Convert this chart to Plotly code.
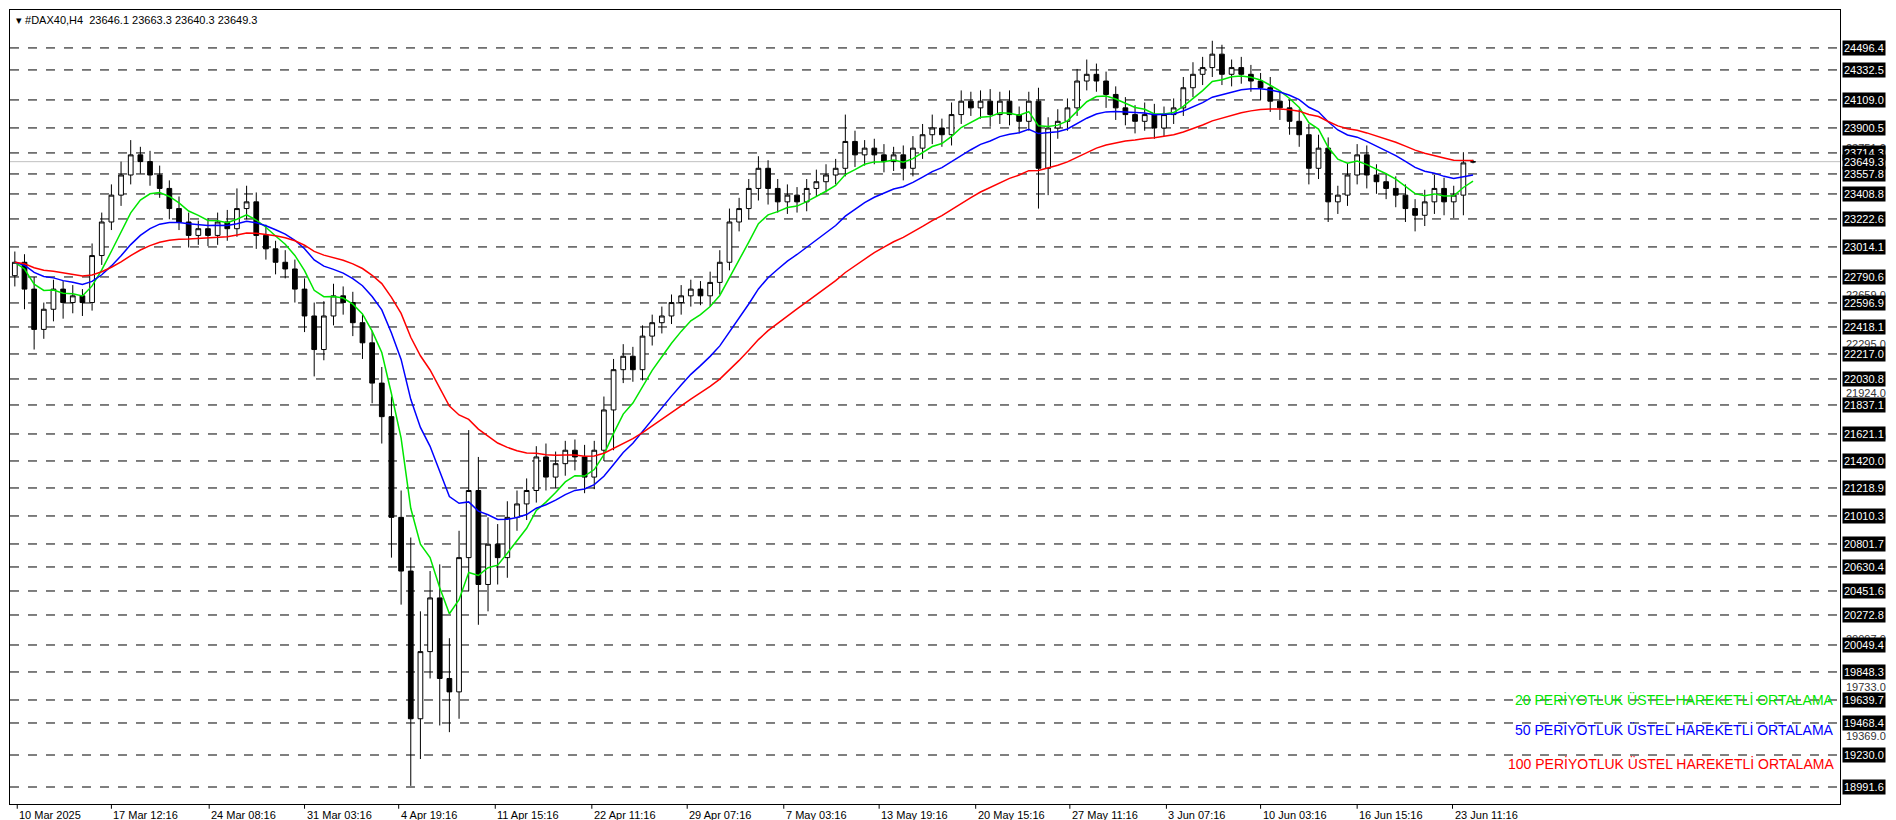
import plotly.graph_objects as go
import pandas as pd

closes = [22900, 22700, 22400, 22550, 22700, 22600, 22650, 22600, 22950, 23200,
          23400, 23550, 23700, 23650, 23550, 23450, 23300, 23200, 23100, 23150,
          23100, 23200, 23150, 23300, 23350, 23100, 23000, 22900, 22850, 22700,
          22500, 22250, 22500, 22650, 22600, 22450, 22300, 22000, 21750, 21000,
          20600, 19500, 20000, 20400, 19800, 19700, 20700, 21200, 20500, 20800,
          20700, 21000, 21100, 21200, 21450, 21300, 21400, 21500, 21450, 21300,
          21500, 21800, 22100, 22200, 22100, 22350, 22450, 22500, 22600, 22650,
          22700, 22650, 22750, 22900, 23200, 23300, 23450, 23600, 23450, 23350,
          23400, 23350, 23450, 23500, 23550, 23600, 23800, 23700, 23750, 23700,
          23650, 23700, 23600, 23750, 23850, 23900, 23850, 24000, 24100, 24050,
          24100, 24000, 24100, 24000, 23950, 24100, 23600, 23900, 23950, 24050,
          24250, 24300, 24250, 24150, 24050, 24000, 23950, 24000, 23900, 24000,
          24050, 24200, 24300, 24350, 24450, 24300, 24350, 24300, 24250, 24200,
          24100, 24050, 23950, 23850, 23600, 23750, 23350, 23400, 23550, 23700,
          23550, 23500, 23450, 23400, 23300, 23250, 23350, 23450, 23350, 23400,
          23640, 23649.3]
wick_up = [80, 60, 90, 50, 70, 60, 80, 50, 90, 70,
           80, 100, 110, 60, 80, 70, 60, 90, 70, 60,
           80, 70, 90, 150, 120, 70, 80, 60, 90, 70,
           80, 100, 110, 90, 70, 80, 60, 90, 120, 150,
           200, 250, 300, 200, 250, 300, 200, 450, 250, 200,
           150, 120, 100, 90, 80, 100, 90, 70, 80, 90,
           70, 100, 80, 90, 70, 80, 60, 70, 60, 80,
           70, 60, 80, 90, 100, 80, 70, 90, 60, 70,
           80, 60, 70, 90, 80, 70, 200, 80, 60, 70,
           80, 60, 70, 90, 80, 100, 70, 90, 80, 70,
           80, 90, 70, 80, 60, 70, 100, 80, 90, 70,
           90, 110, 80, 70, 60, 80, 70, 90, 80, 60,
           70, 80, 90, 80, 100, 70, 60, 80, 70, 60,
           80, 70, 60, 90, 80, 100, 80, 70, 90, 80,
           70, 80, 60, 90, 80, 70, 90, 100, 80, 70,
           80, 14]
wick_dn = [80, 150, 150, 70, 90, 120, 80, 100, 60, 70,
           60, 80, 70, 90, 80, 70, 80, 60, 90, 70,
           80, 70, 90, 60, 80, 100, 80, 90, 70, 100,
           120, 200, 80, 70, 90, 100, 120, 150, 200, 300,
           250, 500, 300, 200, 350, 300, 200, 250, 300, 200,
           200, 150, 100, 120, 90, 100, 80, 90, 100, 120,
           90, 80, 300, 100, 90, 80, 70, 80, 60, 90,
           80, 70, 80, 90, 60, 70, 80, 90, 120, 80,
           90, 80, 70, 60, 80, 70, 60, 90, 80, 70,
           80, 70, 90, 60, 80, 70, 90, 80, 70, 60,
           80, 90, 70, 80, 90, 70, 300, 200, 80, 70,
           60, 70, 80, 100, 90, 80, 90, 70, 80, 60,
           70, 60, 70, 80, 70, 80, 90, 70, 80, 90,
           80, 90, 100, 90, 120, 80, 150, 90, 80, 70,
           100, 90, 80, 90, 100, 120, 80, 90, 100, 120,
           150, 9]

price_labels = [24496.4, 24332.5, 24109.0, 23900.5, 23714.3, 23557.8, 23408.8,
                23222.6, 23014.1, 22790.6, 22596.9, 22418.1, 22217.0, 22030.8,
                21837.1, 21621.1, 21420.0, 21218.9, 21010.3, 20801.7, 20630.4,
                20451.6, 20272.8, 20049.4, 19848.3, 19639.7, 19468.4, 19230.0,
                18991.6]
hidden_labels = [23751.0, 22659.0, 22295.0, 21924.0, 21600.0, 20097.0, 19733.0, 19369.0]
date_labels = ["10 Mar 2025", "17 Mar 12:16", "24 Mar 08:16", "31 Mar 03:16",
               "4 Apr 19:16", "11 Apr 15:16", "22 Apr 11:16", "29 Apr 07:16",
               "7 May 03:16", "13 May 19:16", "20 May 15:16", "27 May 11:16",
               "3 Jun 07:16", "10 Jun 03:16", "16 Jun 15:16", "23 Jun 11:16"]
date_pos = [2, 80, 161, 240, 318, 398, 478, 557, 637, 716, 796, 874, 954, 1032, 1112, 1191]

df = pd.DataFrame({"close": closes})
df["x"] = df.index * 8
df["open"] = df["close"].shift(1).fillna(22800)
df.loc[len(df) - 1, "open"] = 23646.1
df["high"] = df[["open", "close"]].max(axis=1) + pd.Series(wick_up)
df["low"] = df[["open", "close"]].min(axis=1) - pd.Series(wick_dn)
df["ema20"] = df["close"].ewm(span=7, adjust=False).mean()
df["ema50"] = df["close"].ewm(span=17, adjust=False).mean()
df["ema100"] = df["close"].ewm(span=33, adjust=False).mean()

fig = go.Figure()
fig.add_trace(go.Candlestick(
    x=df["x"], open=df["open"], high=df["high"], low=df["low"], close=df["close"],
    increasing=dict(fillcolor="white", line=dict(color="black", width=1)),
    decreasing=dict(fillcolor="black", line=dict(color="black", width=1)),
    whiskerwidth=0, showlegend=False, hoverinfo="skip"))
for col, color in [("ema20", "#00e600"), ("ema50", "#0000ff"), ("ema100", "#ff0000")]:
    fig.add_trace(go.Scatter(x=df["x"], y=df[col], mode="lines",
                             line=dict(color=color, width=1.5), showlegend=False))

for v in price_labels:
    fig.add_shape(type="line", xref="paper", x0=0, x1=1, y0=v, y1=v,
                  line=dict(color="black", width=1, dash="dash"), layer="below")
fig.add_shape(type="line", xref="paper", x0=0, x1=1, y0=23649.3, y1=23649.3,
              line=dict(color="#c0c0c0", width=1), layer="below")

for v in hidden_labels:
    fig.add_annotation(x=1, xref="paper", y=v, text=f"{v:.1f}", showarrow=False,
                       xanchor="left", xshift=4, font=dict(size=11, color="#333"))
for v in price_labels + [23649.3]:
    fig.add_annotation(x=1, xref="paper", y=v, text=f"{v:.1f}", showarrow=False,
                       xanchor="left", xshift=2, bgcolor="black", borderpad=1,
                       font=dict(size=11, color="white", family="Liberation Sans"))

for p, t in zip(date_pos, date_labels):
    fig.add_annotation(x=p, y=0, yref="paper", text=t, showarrow=False,
                       xanchor="left", yanchor="top", yshift=-3,
                       font=dict(size=11, color="black"))
    fig.add_shape(type="line", x0=p, x1=p, yref="paper", y0=0, y1=-0.006,
                  line=dict(color="black", width=1))

legend_texts = [("20 PERİYOTLUK ÜSTEL HAREKETLİ ORTALAMA", "#00e600", 0.118),
                ("50 PERİYOTLUK ÜSTEL HAREKETLİ ORTALAMA", "#0000ff", 0.080),
                ("100 PERİYOTLUK ÜSTEL HAREKETLİ ORTALAMA", "#ff0000", 0.038)]
for t, c, yp in legend_texts:
    fig.add_annotation(x=0.998, xref="paper", y=yp, yref="paper", text=t, showarrow=False,
                       xanchor="right", font=dict(size=14, color=c))
fig.add_annotation(x=0.002, xref="paper", y=0.998, yref="paper",
                   text="▾ #DAX40,H4  23646.1 23663.3 23640.3 23649.3", showarrow=False,
                   xanchor="left", yanchor="top", font=dict(size=11, color="black"))

fig.update_layout(
    width=1896, height=820, margin=dict(l=2, r=64, t=2, b=24),
    paper_bgcolor="white", plot_bgcolor="white",
    font=dict(family="Liberation Sans"),
    xaxis=dict(range=[-4, 1512], showgrid=False, showticklabels=False, zeroline=False,
               rangeslider=dict(visible=False), showline=True, linecolor="black", mirror=True),
    yaxis=dict(range=[18865, 24779], showgrid=False, showticklabels=False, zeroline=False,
               showline=True, linecolor="black", mirror=True),
)
fig.write_html("out.html")
